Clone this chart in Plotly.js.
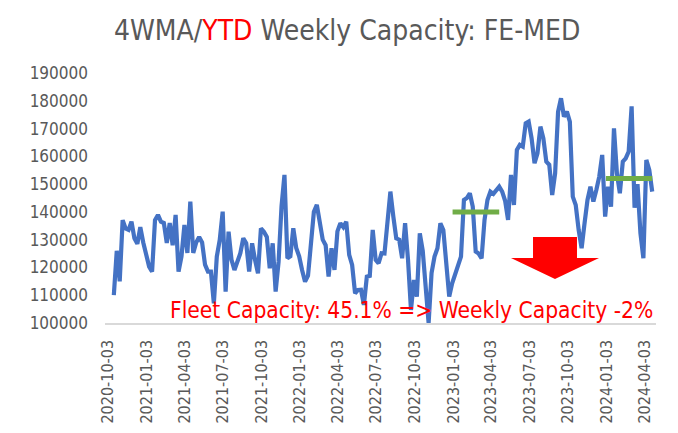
<!DOCTYPE html>
<html>
<head>
<meta charset="utf-8">
<script src="https://cdn.plot.ly/plotly-3.0.1.min.js"></script>
<style>html,body{margin:0;padding:0;background:#fff;}#chart{width:678px;height:433px;}</style>
</head>
<body>
<div id="chart"></div>
<script>
// Weekly series starts on this date, one value per week
const startDate = '2020-10-17';
const weeklyCapacity = [
 110000,126000,115000,137000,134000,133500,136500,130500,128500,134500,
 129000,124000,120300,118500,137000,138900,136500,136000,128800,136000,
 128000,138900,118500,124000,135300,125200,143700,125200,129000,131000,
 129000,121000,118500,118500,107100,123900,129900,140100,111300,132900,
 122700,119100,122000,125100,130500,128700,118500,128700,122700,117900,
 134100,132900,131000,119700,128700,111300,122000,142000,153300,123300,
 124000,134100,127000,124000,119000,114900,117000,130000,140000,142500,
 135000,130000,128000,116700,126900,119100,133000,135900,134500,136500,
 124500,120900,110700,111900,112000,106500,116700,117000,133500,122700,
 121500,125100,125000,135900,147300,138300,130500,130000,123300,135900,
 122700,104700,115500,109500,132300,126000,114300,100000,118000,123900,
 126900,135900,133500,122700,109500,114300,117900,120300,123900,144300,
 145000,146700,141900,125700,125000,123300,137100,144300,147300,146500,
 147900,149100,147300,144000,137100,153300,142500,162300,164100,163500,
 171900,172500,166500,157500,161100,170700,166500,158100,157000,146100,
 153900,176000,180900,174300,176100,172500,145500,142500,133500,126900,
 135900,144300,149100,143700,147900,152700,160500,138300,149100,141900,
 170100,153900,146700,158100,159300,161700,178000,141500,150000,132300,
 123300,158700,155100,147300
];
// YTD averages (green bars)
const ytd2023Dates = ['2023-01-01', '2023-04-22'];
const ytd2023Avg = [140000, 140000];
const ytd2024Dates = ['2024-01-01', '2024-04-20'];
const ytd2024Avg = [152000, 152000];
// X tick labels
const tickDates = ['2020-10-03','2021-01-03','2021-04-03','2021-07-03','2021-10-03',
 '2022-01-03','2022-04-03','2022-07-03','2022-10-03','2023-01-03','2023-04-03',
 '2023-07-03','2023-10-03','2024-01-03','2024-04-03'];
const yTicks = [100000,110000,120000,130000,140000,150000,160000,170000,180000,190000];

const FONT = '"DejaVu Sans Condensed", "Liberation Sans Narrow", sans-serif';
const GREY = '#595959';

const traces = [
  {type:'scatter', mode:'lines', x0:startDate, dx:7*24*3600*1000, y:weeklyCapacity,
   line:{color:'#4472C4', width:4.2}, hoverinfo:'skip'},
  {type:'scatter', mode:'lines', x:ytd2023Dates, y:ytd2023Avg,
   line:{color:'#70AD47', width:5}, hoverinfo:'skip'},
  {type:'scatter', mode:'lines', x:ytd2024Dates, y:ytd2024Avg,
   line:{color:'#70AD47', width:5}, hoverinfo:'skip'}
];

const layout = {
  width:678, height:433,
  margin:{l:105, r:22, t:73, b:110},
  paper_bgcolor:'#fff', plot_bgcolor:'#fff',
  showlegend:false,
  font:{family:FONT, color:GREY},
  title:{text:'4WMA/<span style="color:#FF0000">YTD</span> Weekly Capacity: FE-MED',
    font:{family:FONT, size:28, color:GREY},
    xref:'container', x:0.512, xanchor:'center', yref:'container', y:0.93, yanchor:'middle'},
  xaxis:{type:'date', range:['2020-09-26','2024-04-29'],
    tickmode:'array', tickvals:tickDates, ticktext:tickDates, tickangle:-90,
    tickfont:{family:FONT, size:16, color:GREY},
    showgrid:false, zeroline:false, showline:true, linecolor:'#D9D9D9', linewidth:1.5,
    ticks:'', ticklabelstandoff:9, fixedrange:true},
  yaxis:{range:[100000,190000], tickmode:'array', tickvals:yTicks, tickformat:'d',
    tickfont:{family:FONT, size:17, color:GREY},
    showgrid:false, zeroline:false, showline:false, ticks:'', ticklabelstandoff:16, fixedrange:true},
  shapes:[{type:'path', xref:'paper', yref:'paper',
    path:'M 0.7768 0.344 L 0.8566 0.344 L 0.8566 0.26 L 0.8966 0.26 L 0.8167 0.176 L 0.7368 0.26 L 0.7768 0.26 Z',
    fillcolor:'#FF0000', line:{width:0}, layer:'above'}],
  annotations:[{text:'Fleet Capacity: 45.1% => Weekly Capacity -2%', xref:'paper', yref:'paper',
    x:0.998, xanchor:'right', y:0.052, yanchor:'middle', showarrow:false,
    font:{family:FONT, size:22.6, color:'#FF0000'}}]
};

Plotly.newPlot('chart', traces, layout, {displayModeBar:false, staticPlot:true});
</script>
</body>
</html>
